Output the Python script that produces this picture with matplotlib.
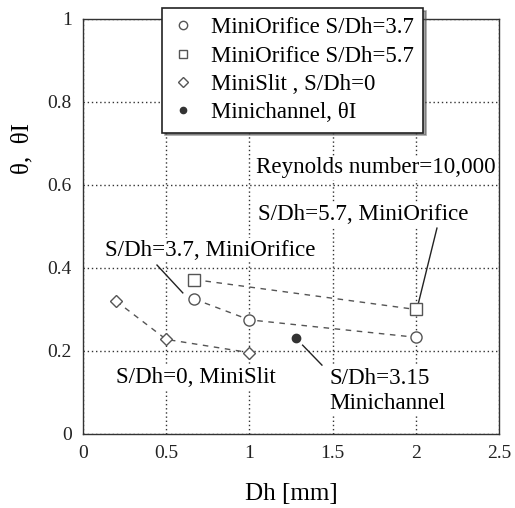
import matplotlib
matplotlib.use("Agg")
import matplotlib.pyplot as plt

plt.rcParams['font.family'] = ['Liberation Serif', 'DejaVu Serif']

# Data
orifice37_x = [0.67, 1.0, 2.0]
orifice37_y = [0.325, 0.275, 0.233]
orifice57_x = [0.67, 2.0]
orifice57_y = [0.372, 0.30]
slit_x = [0.2, 0.5, 1.0]
slit_y = [0.32, 0.228, 0.196]
channel_x = [1.28]
channel_y = [0.232]

labels = ["MiniOrifice S/Dh=3.7", "MiniOrifice S/Dh=5.7",
          "MiniSlit , S/Dh=0", "Minichannel, θI"]
xticks = [0, 0.5, 1, 1.5, 2, 2.5]
xticklabels = ["0", "0.5", "1", "1.5", "2", "2.5"]
yticks = [0, 0.2, 0.4, 0.6, 0.8, 1]
yticklabels = ["0", "0.2", "0.4", "0.6", "0.8", "1"]

fig = plt.figure(figsize=(5.15, 5.08), dpi=100)
ax = fig.add_axes([0.161, 0.1457, 0.808, 0.817])

mc = '#555555'
ax.plot(orifice37_x, orifice37_y, linestyle=(0, (4, 4)), color='#555555', lw=1.0,
        marker='o', ms=8, mfc='white', mec=mc, mew=1.0, label=labels[0], zorder=3)
ax.plot(orifice57_x, orifice57_y, linestyle=(0, (4, 4)), color='#555555', lw=1.0,
        marker='s', ms=8, mfc='white', mec=mc, mew=1.0, label=labels[1], zorder=3)
ax.plot(slit_x, slit_y, linestyle=(0, (4, 4)), color='#555555', lw=1.0,
        marker='D', ms=6.5, mfc='white', mec=mc, mew=1.0, label=labels[2], zorder=3)
ax.plot(channel_x, channel_y, linestyle='none',
        marker='o', ms=6, mfc='#333333', mec='#333333', label=labels[3], zorder=3)

ax.set_xlim(0, 2.5)
ax.set_ylim(0, 1)
ax.set_xticks(xticks)
ax.set_xticklabels(xticklabels)
ax.set_yticks(yticks)
ax.set_yticklabels(yticklabels)
ax.tick_params(labelsize=14, length=0, pad=8, colors='#222222')
ax.grid(True, linestyle=(0, (1, 2)), color='#333333', lw=1.0)
for s in ax.spines.values():
    s.set_color('#333333')
    s.set_linewidth(1.0)

ax.set_xlabel("Dh [mm]", fontsize=18)
ax.xaxis.set_label_coords(0.5, -0.118)
ax.set_ylabel("θ,  θI", fontsize=18)
ax.yaxis.set_label_coords(-0.118, 0.688)

fs = 16.6
ax.text(1.04, 0.641, "Reynolds number=10,000", fontsize=fs, va='center', ha='left',
        bbox=dict(facecolor='white', edgecolor='none', pad=1))
ax.text(1.05, 0.528, "S/Dh=5.7, MiniOrifice", fontsize=fs, va='center', ha='left',
        bbox=dict(facecolor='white', edgecolor='none', pad=1))
ax.text(0.13, 0.443, "S/Dh=3.7, MiniOrifice", fontsize=fs, va='center', ha='left',
        bbox=dict(facecolor='white', edgecolor='none', pad=1))
ax.text(0.20, 0.135, "S/Dh=0, MiniSlit", fontsize=fs, va='center', ha='left',
        bbox=dict(facecolor='white', edgecolor='none', pad=1))
ax.text(1.48, 0.104, "S/Dh=3.15\nMinichannel", fontsize=fs, va='center', ha='left',
        linespacing=1.25, bbox=dict(facecolor='white', edgecolor='none', pad=1))

ax.plot([2.127, 2.013], [0.496, 0.311], color='#222222', lw=1.0, zorder=2)
ax.plot([0.445, 0.60], [0.407, 0.34], color='#222222', lw=1.0, zorder=2)
ax.plot([1.32, 1.436], [0.214, 0.166], color='#222222', lw=1.0, zorder=2)

leg = ax.legend(loc='upper left', bbox_to_anchor=(0.3146, 0.984),
                bbox_transform=fig.transFigure, fontsize=16.5, frameon=True,
                fancybox=False, shadow=True, framealpha=1, edgecolor='#222222',
                handlelength=1.0, handletextpad=0.75, borderpad=0.4,
                labelspacing=0.32, borderaxespad=0, markerscale=0.75)
leg.get_frame().set_linewidth(1.2)
for h in leg.legend_handles:
    h.set_linestyle('none')
leg.set_zorder(10)

fig.savefig("out.png", dpi=100)
